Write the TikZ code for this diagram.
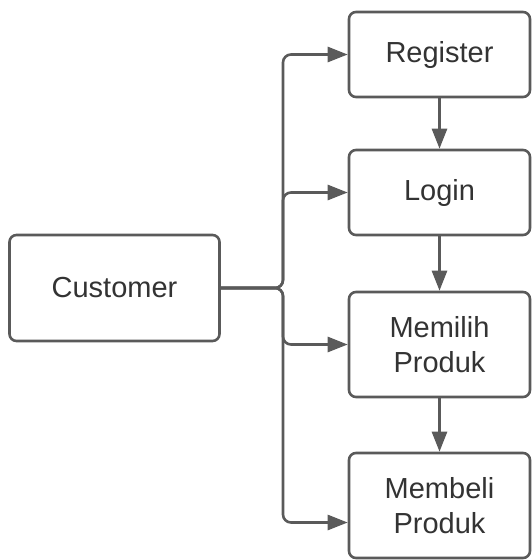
\documentclass[tikz,border=0pt]{standalone}
\usepackage{fontspec}
\setmainfont{Liberation Sans}
\usetikzlibrary{arrows.meta}

\definecolor{linegray}{HTML}{5A5A5A}
\definecolor{textgray}{HTML}{333333}

\tikzset{
    box/.style={draw=linegray, line width=2.6pt, rounded corners=7pt, fill=white,
        text=textgray, align=center, font=\fontsize{29}{35}\selectfont},
    flow/.style={draw=linegray, line width=2.6pt, -{Triangle[length=20pt, width=15pt]}},
}

\begin{document}
\begin{tikzpicture}[x=1pt, y=-1pt]
    \useasboundingbox (0,0) rectangle (531,560);
    \node[box, minimum width=210pt, minimum height=106pt] (cust) at (114.5,288) {Customer};
    \node[box, minimum width=181pt, minimum height=85pt] (reg) at (439.5,54.5) {Register};
    \node[box, minimum width=181pt, minimum height=85pt] (login) at (439.5,192.5) {Login};
    \node[box, minimum width=181pt, minimum height=105pt] (pilih) at (439.5,344.5) {Memilih\\Produk};
    \node[box, minimum width=181pt, minimum height=105pt] (beli) at (439.5,505.5) {Membeli\\Produk};
    \coordinate (j) at (283,288);

    \draw[flow, rounded corners=8pt] (cust.east) -- (j) |- (reg.west);
    \draw[flow, rounded corners=8pt] (cust.east) -- (j) |- (login.west);
    \draw[flow, rounded corners=8pt] (cust.east) -- (j) |- (pilih.west);
    \draw[flow, rounded corners=8pt] (cust.east) -- (j) |- ([yshift=-17pt]beli.west);

    \draw[flow] (reg) -- (login);
    \draw[flow] (login) -- (pilih);
    \draw[flow] (pilih) -- (beli);
\end{tikzpicture}
\end{document}
